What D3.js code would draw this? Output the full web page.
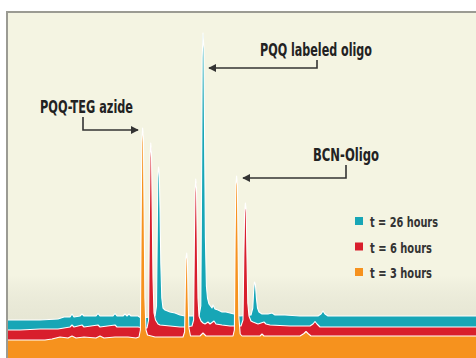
<!DOCTYPE html>
<html><head><meta charset="utf-8">
<script src="https://cdn.jsdelivr.net/npm/d3@7/dist/d3.min.js"></script>
<style>html,body{margin:0;padding:0;background:#fff;overflow:hidden}</style>
</head><body>
<svg id="chart" width="476" height="358"></svg>
<script>
// ---- data (x: retention time, arbitrary units; y: signal, arbitrary units incl. display offset) ----
const seriesNames = ["t = 26 hours", "t = 6 hours", "t = 3 hours"];
const seriesColors = ["#17a6b6", "#d81e2c", "#f6921e"];

const teal = [[0,38],[32,38],[50,39],[56,41],[62,41],[64,44],[66,41],[72,42],[74,44],[76,42],[88,42],[90,44.5],[92,42],[105,42],[107,44.5],[109,42],[115,42],[117,44],[119,42],[121,44],[123,42],[130,42],[133,40],[142,41],
  [147,42],[148.5,52],[149.2,120],[149.8,180],[150.5,191],[151.3,186],[152,150],[152.8,95],[153.8,60],[155,50],[157,48],[162,46],[167,45],[172,43],[177,42],[182,42],
  [191,42],[192.8,52],[193.5,160],[194.2,300],[195,325],[195.9,310],[196.6,220],[197.4,120],[198.4,72],[199.5,60],[201,54],[204,50],[205,53],[207,49],[210,48],[214,46],[218,46],[222,45],[226,44],[232,42],
  [243,43],[244.8,50],[245.6,66],[246.4,76],[247.4,74],[248.4,60],[249.5,50],[251,46],[254,44],[260,44],[264,45],[267,43],[277,43],[292,42],[310,42],[313,44],[315,47],[317,44],[320,42],[352,42],[392,42],[432,42],[470,42]];

const red = [[0,28],[12,28],[32,29],[50,29],[56,30],[62,31],[64,33],[66,31],[74,33],[76,31],[90,33],[92,31],[107,33],[109,31],[122,31],[130,31],[136,30],
  [139,30],[140.6,38],[141.3,130],[142,200],[142.7,215],[143.5,205],[144.2,150],[145,80],[146,45],[147.5,38],[150,34],[152,33],[162,32],[172,31],[178,31],
  [184,32],[185.6,38],[186.3,110],[187,165],[187.7,179],[188.5,170],[189.2,120],[190,60],[191,42],[193,37],[195,35],[197,34],[200,36],[202,34],[206,37],[208,34],[214,33],[222,32],[230,32],
  [233,32],[235,38],[235.8,100],[236.6,145],[237.4,155],[238.2,148],[239,100],[239.8,55],[241,42],[243,37],[245,36],[250,34],[256,36],[258,34],[262,33],[282,32],[302,32],[305,34],[307,36.5],[309,34],[312,31],[352,31],[392,31],[470,31]];

const orange = [[0,18],[37,18],[44,19],[52,21],[60,20],[64,22],[68,20],[76,21],[88,20],[92,22],[96,20],[107,21],[120,21],[128,20],
  [131,21],[132.4,28],[133.1,130],[133.8,215],[134.6,230],[135.4,222],[136.1,150],[136.9,60],[138,28],[139.5,23],[147,21],[162,21],
  [175,21],[176.6,26],[177.3,70],[178,100],[178.7,105],[179.4,98],[180.1,60],[180.9,30],[182.5,22],[192,22],[195,25],[198,22],[207,22],[222,22],
  [225,22],[226.4,28],[227.1,120],[227.8,172],[228.6,182],[229.4,174],[230.1,110],[230.9,40],[232.2,24],[234,22],[252,22],[254,24],[256,22],[292,22],[296,24.5],[298,26.5],[300,24.5],[303,22],[342,22],[392,22],[470,22]];

const seriesData = [teal, red, orange];

const annLabels = ["PQQ labeled oligo", "PQQ-TEG azide", "BCN-Oligo"];

// ---- drawing ----
const W = 476, H = 358;
const svg = d3.select("#chart");
const x = d3.scaleLinear().domain([0, 470]).range([8, 478]);
const y = d3.scaleLinear().domain([0, 346]).range([358, 12]);

const defs = svg.append("defs");
defs.append("clipPath").attr("id","clip").append("rect").attr("x",8).attr("y",13).attr("width",W).attr("height",H);
const bg = defs.append("linearGradient").attr("id","bgshade").attr("x1",0).attr("y1",0).attr("x2",0).attr("y2",1);
bg.append("stop").attr("offset","0%").attr("stop-color","#000").attr("stop-opacity",0);
bg.append("stop").attr("offset","100%").attr("stop-color","#6b6b50").attr("stop-opacity",0.10);

// frame
svg.append("rect").attr("x",7).attr("y",12).attr("width",W).attr("height",H)
  .attr("fill","#f4f4e2").attr("stroke","#9b9b93").attr("stroke-width",2);
svg.append("rect").attr("x",8).attr("y",275).attr("width",W).attr("height",50).attr("fill","url(#bgshade)");

const g = svg.append("g").attr("clip-path","url(#clip)");
const area = d3.area().x(d=>x(d[0])).y0(y(0)).y1(d=>y(d[1]));
const line = d3.line().x(d=>x(d[0])).y(d=>y(d[1]));

seriesData.forEach((s,i)=>{
  g.append("path").datum(s).attr("d",area).attr("fill",seriesColors[i]);
  g.append("path").datum(s).attr("d",line).attr("fill","none").attr("stroke","#fff")
    .attr("stroke-width",1.1).attr("stroke-linejoin","round");
});

// annotations
const font = "'Liberation Sans Narrow','DejaVu Sans Condensed','Liberation Sans',Arial,sans-serif";
defs.append("marker").attr("id","arr").attr("viewBox","0 0 10 10").attr("refX",9).attr("refY",5)
  .attr("markerWidth",5).attr("markerHeight",5).attr("orient","auto-start-reverse")
  .append("path").attr("d","M0,0L10,5L0,10z").attr("fill","#333");

const annText = [[260,56,112],[40,113,93],[313,161,66]];  // [x, baseline, width] px
const annPath = [
  [[x(309),60],[x(309),68],[x(201),68]],
  [[x(75),117],[x(75),130],[x(130),130]],
  [[x(338),165],[x(338),178],[x(235),178]]
];
annLabels.forEach((t,i)=>{
  svg.append("text").attr("x",annText[i][0]).attr("y",annText[i][1]).text(t)
    .attr("font-family",font).attr("font-weight","bold").attr("font-size",18)
    .attr("fill","#222").attr("textLength",annText[i][2]).attr("lengthAdjust","spacingAndGlyphs");
  svg.append("path").attr("d",d3.line()(annPath[i])).attr("fill","none").attr("stroke","#333")
    .attr("stroke-width",1.6).attr("marker-end","url(#arr)");
});

// legend
const leg = svg.append("g").attr("transform","translate(355,217)");
seriesNames.forEach((n,i)=>{
  const r = leg.append("g").attr("transform",`translate(0,${i*25.5})`);
  r.append("rect").attr("width",8).attr("height",8).attr("fill",seriesColors[i]);
  r.append("text").attr("x",15).attr("y",10).text(n)
    .attr("font-family",font).attr("font-size",14.5).attr("font-weight","bold").attr("fill","#333")
    .attr("textLength", i===0?68:62).attr("lengthAdjust","spacingAndGlyphs");
});
</script>
</body></html>
